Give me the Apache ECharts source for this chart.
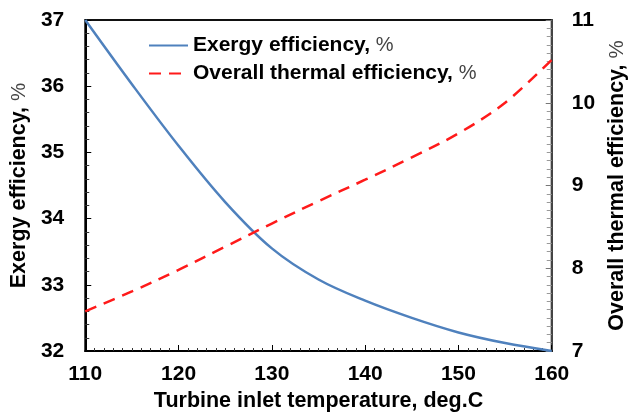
<!DOCTYPE html>
<html>
<head>
<meta charset="utf-8">
<script src="https://cdn.jsdelivr.net/npm/echarts@6/dist/echarts.min.js"></script>
<style>
  html, body { margin: 0; padding: 0; background: #fff; }
  #chart { width: 636px; height: 418px; }
</style>
</head>
<body>
<div id="chart"></div>
<script>
// Turbine inlet temperature, deg.C
const temperatures = [110, 115, 120, 125, 130, 135, 140, 145, 150, 155, 160];
// Exergy efficiency, % (left axis)
const exergyEfficiency = [37.0, 36.03, 35.1, 34.25, 33.55, 33.08, 32.76, 32.5, 32.28, 32.12, 32.0];
// Overall thermal efficiency, % (right axis)
const thermalEfficiency = [7.48, 7.72, 7.98, 8.26, 8.54, 8.81, 9.07, 9.34, 9.63, 10.0, 10.52];

const seriesNames = ['Exergy efficiency, %', 'Overall thermal efficiency, %'];

const font = 'Liberation Sans, Arial, sans-serif';
const pct = size => ({ fontFamily: font, fontSize: size - 1, fontWeight: 'normal', color: '#444' });
const titleStyle = { fontFamily: font, fontSize: 21.5, fontWeight: 'bold', color: '#000', rich: { p: pct(21.5) } };
const legendText = { fontFamily: font, fontSize: 21, fontWeight: 'bold', color: '#000', rich: { p: pct(21) } };
const tickLabel = { fontFamily: font, fontSize: 21, fontWeight: 'bold', color: '#000' };
const pairs = (xs, ys) => xs.map((x, i) => [x, ys[i]]);

const chart = echarts.init(document.getElementById('chart'), null, { renderer: 'canvas' });

chart.setOption({
  animation: false,
  backgroundColor: '#fff',
  grid: {
    left: 78, right: 71, top: 20, bottom: 67,
    show: true, borderColor: '#111', borderWidth: 2, backgroundColor: 'transparent'
  },
  legend: {
    left: 143, top: 30, orient: 'vertical', itemGap: 7,
    itemWidth: 39, itemHeight: 14, itemTextGap: 5,
    itemStyle: { opacity: 0 },
    textStyle: legendText,
    formatter: name => name.replace(', %', ', {p|%}'),
    data: seriesNames
  },
  xAxis: {
    type: 'value', min: 110, max: 160, interval: 10,
    name: 'Turbine inlet temperature, deg.C',
    nameLocation: 'middle', nameGap: 39,
    nameTextStyle: titleStyle,
    axisLine: { show: true, onZero: false, lineStyle: { color: '#000', width: 2 } },
    axisTick: { show: true, inside: true, length: 6, lineStyle: { color: '#000', width: 1 } },
    minorTick: { show: true, splitNumber: 10, length: 3, lineStyle: { color: '#333' } },
    axisLabel: Object.assign({ margin: 13 }, tickLabel),
    splitLine: { show: false }
  },
  yAxis: [
    {
      type: 'value', min: 32, max: 37, interval: 1, position: 'left',
      name: 'Exergy efficiency, {p|%}',
      nameLocation: 'middle', nameGap: 44, nameRotate: 90,
      nameTextStyle: titleStyle,
      axisLine: { show: true, lineStyle: { color: '#000', width: 2 } },
      axisTick: { show: true, inside: true, length: 6, lineStyle: { color: '#000' } },
      minorTick: { show: true, splitNumber: 5, length: 4, lineStyle: { color: '#333' } },
      axisLabel: Object.assign({ margin: 21 }, tickLabel),
      splitLine: { show: false }
    },
    {
      type: 'value', min: 7, max: 11, interval: 1, position: 'right',
      name: 'Overall thermal efficiency, {p|%}',
      nameLocation: 'middle', nameGap: 47, nameRotate: 90,
      nameTextStyle: titleStyle,
      axisLine: { show: true, lineStyle: { color: '#444', width: 2 } },
      axisTick: { show: true, inside: true, length: 6, lineStyle: { color: '#777' } },
      minorTick: { show: true, splitNumber: 10, length: 5, lineStyle: { color: '#999' } },
      axisLabel: Object.assign({ margin: 20 }, tickLabel),
      splitLine: { show: false }
    }
  ],
  series: [
    {
      name: seriesNames[0], type: 'line', yAxisIndex: 0,
      data: pairs(temperatures, exergyEfficiency),
      smooth: 0.35, showSymbol: false, symbol: 'none',
      lineStyle: { color: '#4f81bd', width: 2.5 },
      itemStyle: { color: '#4f81bd' }
    },
    {
      name: seriesNames[1], type: 'line', yAxisIndex: 1,
      data: pairs(temperatures, thermalEfficiency),
      smooth: 0.35, showSymbol: false, symbol: 'none',
      lineStyle: { color: '#ff1a1a', width: 2.5, type: [12, 8] },
      itemStyle: { color: '#ff1a1a' }
    }
  ]
});
</script>
</body>
</html>
